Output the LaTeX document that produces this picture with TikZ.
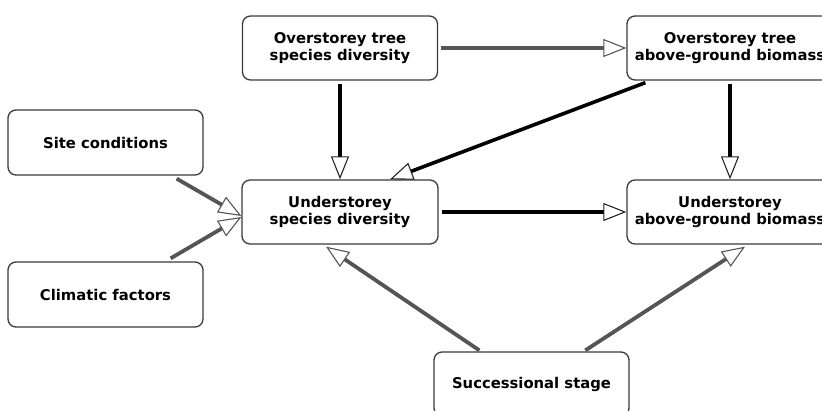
\documentclass[tikz,border=0pt]{standalone}
\usepackage{fontspec}
\setmainfont{DejaVu Sans}
\usetikzlibrary{arrows.meta,calc}
\definecolor{boxline}{HTML}{3A3A3A}
\definecolor{grayline}{HTML}{555555}
\tikzset{
  box/.style={draw=boxline, line width=1.3pt, rounded corners=8pt, fill=white,
    align=center, font=\fontsize{14.8}{17.5}\selectfont\bfseries, inner sep=0pt},
  blackarrow/.style={draw=black, line width=3.6pt,
    -{Triangle[open, length=23pt, width=18pt, line width=1.1pt, color=black!85]}},
  grayarrow/.style={draw=grayline, line width=3.8pt,
    -{Triangle[open, length=23pt, width=18pt, line width=1.1pt, color=grayline]}},
}
\begin{document}
\begin{tikzpicture}[x=1pt,y=-1pt]
\useasboundingbox (0,0) rectangle (822,410);
\begin{scope}
\clip (0,0) rectangle (822,410);
\node[box, minimum width=195pt, minimum height=64pt] (otd) at (340,48) {Overstorey tree\\species diversity};
\node[box, minimum width=206pt, minimum height=64pt] (otb) at (730,48) {Overstorey tree\\above-ground biomass};
\node[box, minimum width=195pt, minimum height=65pt] (site) at (105.5,142.5) {Site conditions};
\node[box, minimum width=195pt, minimum height=65pt] (clim) at (105.5,294.5) {Climatic factors};
\node[box, minimum width=196pt, minimum height=64pt] (usd) at (340,212) {Understorey\\species diversity};
\node[box, minimum width=206pt, minimum height=64pt] (uab) at (730,212) {Understorey\\above-ground biomass};
\node[box, minimum width=195pt, minimum height=64pt] (succ) at (531.5,384) {Successional stage};

\draw[grayarrow, shorten <=3pt] (otd.east) -- (otb.west);
\draw[blackarrow, shorten <=3pt] (otd.south) -- (usd.north);
\draw[blackarrow, shorten <=3pt] (otb.south) -- (uab.north);
\draw[blackarrow, shorten <=3pt] (usd.east) -- (uab.west);
\draw[blackarrow] ($(otb.south west)+(19,2)$) -- ($(usd.north)+(50,0)$);
\draw[grayarrow] ($(site.south east)+(-27,3)$) -- ($(usd.west)+(0,4)$);
\draw[grayarrow] ($(clim.north east)+(-33,-3)$) -- ($(usd.west)+(0,5)$);
\draw[grayarrow] ($(succ.north west)+(46,-1)$) -- ($(usd.south)+(-14,2)$);
\draw[grayarrow] ($(succ.north west)+(152,-1)$) -- ($(uab.south)+(15,2)$);
\end{scope}
\end{tikzpicture}
\end{document}
